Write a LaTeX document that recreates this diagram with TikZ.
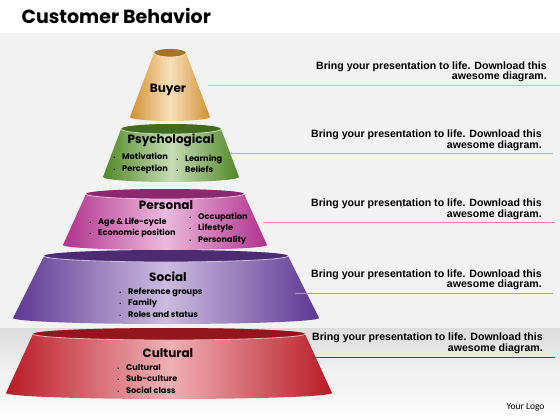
\documentclass[tikz,border=0pt]{standalone}
\usepackage{fontspec}
\setmainfont{Liberation Sans}
\newfontfamily\gothic{Poppins}
\newfontfamily\logofont{Carlito}
\usepackage{xcolor}
\usepackage{tikz}
\usetikzlibrary{calc}
\definecolor{backC}{HTML}{F2F2F2}
\definecolor{bandC}{HTML}{DCDCDC}
\definecolor{buyerC}{HTML}{EDA53A}
\definecolor{psychC}{HTML}{5C9A2C}
\definecolor{personC}{HTML}{C8399F}
\definecolor{socialC}{HTML}{6B3FA6}
\definecolor{cultC}{HTML}{D21F2C}
\tikzset{%Global config
	>=latex,
	color = black ,
	%Styles
	Tier/.style={
		left color=#1!88!black,
		right color=#1!88!black,
		middle color=#1!35!white,
	},
	TierHead/.style={
		font=\gothic\bfseries\fontsize{12}{12}\selectfont,
		inner sep=0pt,
	},
	Items/.style={
		font=\gothic\bfseries\fontsize{8.2}{11.5}\selectfont,
		align=left,
		anchor=west,
		inner sep=0pt,
	},
	Note/.style={
		font=\bfseries\fontsize{10.6}{10.5}\selectfont,
		align=right,
		anchor=east,
		inner sep=0pt,
	},
	Rule/.style={
		draw=#1,
		line width=0.7pt,
	}
}
% one tier of the stack: centre x, top y, bottom y, top half width, bottom half width, rim, colour
\newcommand{\tier}[7]{%
	\path[Tier=#7] (#1-#4,#2) -- (#1-#5,#3) arc (180:0:#5 and #6) -- (#1+#4,#2) arc (0:-180:#4 and #6) -- cycle;
	\fill[#7!70!black] (#1,#2) ellipse (#4 and #6);
	\draw[#7!35!white, line width=0.8pt] (#1+#4,#2) arc (0:180:#4 and #6);
}
\newcommand{\blt}{{\fontsize{5}{5}\selectfont\textbullet}\hspace{6.5pt}}

\begin{document}
\begin{tikzpicture}[x=1pt,y=-1pt]
		\useasboundingbox (0,0) rectangle (560,420);
		% backdrop
		\fill[white] (0,0) rectangle (560,420);
		\fill[backC] (0,33) rectangle (560,385);
		\shade[top color=backC, bottom color=white] (0,385) rectangle (560,420);
		\shade[top color=bandC, bottom color=backC] (0,328) rectangle (560,372);
		
		\node[anchor=west, font=\gothic\bfseries\fontsize{19}{19}\selectfont] (title) at (18,16) {Customer Behavior};
		
		% the stack
		\tier{170}{53}{117}{16}{40}{4}{buyerC}
		\tier{171}{129}{177}{50}{68}{5}{psychC}
		\tier{165}{194}{245}{79}{102}{5}{personC}
		\tier{166}{256}{318}{122}{153}{6}{socialC}
		\tier{169}{334}{393}{136}{163}{6}{cultC}
		
		\node[TierHead] (buyer) at (168,90) {Buyer};
		\node[TierHead] (psych) at (171,140) {Psychological};
		\node[Items] (psychL) at (113,163.5) {\blt Motivation\\\blt Perception};
		\node[Items] (psychR) at (176,163.5) {\blt Learning\\\blt Beliefs};
		\node[TierHead] (personal) at (166,205) {Personal};
		\node[Items] (personalL) at (89,228) {\blt Age \& Life-cycle\\\blt Economic position};
		\node[Items] (personalR) at (189,228.5) {\blt Occupation\\\blt Lifestyle\\\blt Personality};
		\node[TierHead] (social) at (168,277) {Social};
		\node[Items] (socialL) at (119,302.5) {\blt Reference groups\\\blt Family\\\blt Roles and status};
		\node[TierHead] (cultural) at (168,353) {Cultural};
		\node[Items] (culturalL) at (117,378.5) {\blt Cultural\\\blt Sub-culture\\\blt Social class};
		
		% notes on the right
		\node[Note] (noteBuyer) at (547,72) {Bring your presentation to life. Download this\\awesome diagram.};
		\node[Note] (notePsych) at (542,140.5) {Bring your presentation to life. Download this\\awesome diagram.};
		\node[Note] (notePersonal) at (542,209.5) {Bring your presentation to life. Download this\\awesome diagram.};
		\node[Note] (noteSocial) at (542,280) {Bring your presentation to life. Download this\\awesome diagram.};
		\node[Note] (noteCultural) at (543,343.5) {Bring your presentation to life. Download this\\awesome diagram.};
		
		\coordinate (buyerR) at (208,85);
		\coordinate (buyerEnd) at (560,85);
		\coordinate (psychR) at (231,153);
		\coordinate (psychEnd) at (553,153);
		\coordinate (personalR) at (263,222);
		\coordinate (personalEnd) at (555,222);
		\coordinate (socialR) at (295,293);
		\coordinate (socialEnd) at (553,293);
		\coordinate (culturalR) at (313,357);
		\coordinate (culturalEnd) at (555,357);
		\draw[Rule=buyerC!60!white] (buyerR) -- (buyerEnd);
		\draw[Rule=psychC!60!white] (psychR) -- (psychEnd);
		\draw[Rule=personC!60!white] (personalR) -- (personalEnd);
		\draw[Rule=socialC!55!white] (socialR) -- (socialEnd);
		\draw[Rule=cultC!80!black] (culturalR) -- (culturalEnd);
		
		\node[anchor=east, font=\logofont\fontsize{9.5}{10}\selectfont] (logo) at (548,407) {Your Logo};
	\end{tikzpicture}
\end{document}
